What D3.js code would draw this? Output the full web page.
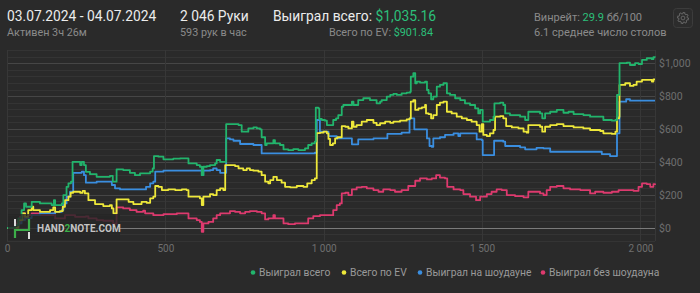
<!DOCTYPE html>
<html><head><meta charset="utf-8">
<script src="https://cdn.jsdelivr.net/npm/d3@7/dist/d3.min.js"></script>
<style>
html,body{margin:0;padding:0;background:#2a2a2a;}
svg{display:block;font-family:Roboto,"Noto Sans",sans-serif;}
</style></head><body>
<svg id="chart" width="700" height="293"></svg>
<script>
// ---------- DATA ----------
const seriesNames = ["Выиграл всего", "Всего по EV", "Выиграл на шоудауне", "Выиграл без шоудауна"];
const seriesColors = ["#22b46c", "#eee83a", "#3a8ee0", "#dd3a6e"];
const xTicks = [0, 500, 1000, 1500, 2000];
const xTickLabels = ["0", "500", "1 000", "1 500", "2 000"];
const yTicks = [0, 200, 400, 600, 800, 1000];
const yTickLabels = ["$0", "$200", "$400", "$600", "$800", "$1,000"];
const totalHands = 2046;

const wonTotal = [[0,0],[25,16],[36,57],[46,108],[54,148],[60,128],[67,128],[78,158],[104,148],[136,148],[141,138],[148,168],[152,138],[173,148],[178,199],[188,249],[194,270],[202,280],[207,401],[225,401],[231,381],[236,401],[243,381],[249,340],[262,326],[283,310],[325,316],[334,280],[344,280],[346,355],[367,351],[388,334],[404,320],[420,331],[436,331],[452,341],[460,361],[464,436],[478,432],[494,416],[525,420],[546,422],[567,422],[573,391],[599,381],[609,371],[615,320],[620,371],[631,375],[641,381],[657,391],[662,412],[673,401],[683,401],[692,630],[715,630],[731,624],[741,584],[752,584],[762,604],[778,610],[789,604],[799,598],[804,550],[815,503],[820,513],[831,513],[841,533],[846,513],[862,503],[873,477],[888,472],[904,478],[920,472],[941,482],[951,503],[962,513],[972,523],[975,730],[983,726],[986,661],[994,655],[1004,651],[1010,624],[1020,624],[1030,655],[1039,665],[1046,685],[1057,736],[1062,746],[1078,746],[1089,766],[1094,746],[1109,776],[1125,787],[1146,776],[1167,756],[1178,766],[1183,776],[1199,797],[1210,807],[1220,813],[1231,807],[1246,817],[1262,821],[1273,827],[1275,918],[1283,939],[1289,878],[1294,888],[1304,882],[1320,888],[1326,837],[1331,817],[1339,781],[1346,797],[1357,857],[1367,868],[1378,878],[1389,817],[1399,807],[1415,787],[1431,776],[1446,756],[1462,746],[1478,726],[1488,695],[1494,716],[1502,645],[1515,645],[1525,655],[1536,675],[1539,756],[1557,760],[1567,746],[1573,695],[1588,685],[1620,675],[1636,655],[1646,705],[1662,705],[1683,695],[1690,665],[1699,695],[1715,705],[1736,716],[1757,699],[1773,705],[1789,691],[1820,685],[1841,675],[1873,675],[1883,655],[1910,651],[1921,655],[1926,807],[1934,1000],[1947,1000],[1957,1003],[1967,989],[1983,1000],[1994,995],[2005,1020],[2020,1030],[2036,1024],[2041,1036],[2046,1035]];

const evTotal = [[0,0],[36,47],[49,88],[57,67],[67,108],[78,128],[83,108],[104,97],[136,108],[146,124],[152,97],[167,102],[176,128],[183,168],[194,189],[201,213],[209,219],[231,213],[239,225],[246,209],[257,168],[278,144],[304,132],[325,138],[331,118],[336,88],[345,88],[346,173],[367,173],[384,158],[399,144],[415,144],[425,158],[441,152],[452,179],[462,189],[468,254],[478,249],[489,229],[509,233],[531,229],[552,233],[567,229],[573,189],[599,189],[609,179],[615,138],[620,189],[631,189],[641,205],[651,199],[662,229],[673,240],[683,229],[689,381],[704,381],[720,375],[731,361],[746,351],[757,361],[767,351],[778,347],[794,341],[804,320],[815,280],[825,270],[831,290],[841,310],[852,290],[867,274],[878,249],[894,246],[915,254],[936,249],[948,270],[962,290],[972,300],[978,575],[988,578],[999,584],[1010,574],[1015,540],[1020,503],[1029,513],[1036,543],[1043,550],[1057,618],[1068,614],[1078,604],[1089,645],[1094,614],[1104,624],[1120,645],[1136,655],[1157,638],[1167,624],[1178,635],[1194,645],[1210,638],[1220,645],[1241,651],[1262,659],[1271,665],[1275,766],[1283,776],[1289,716],[1299,726],[1310,732],[1320,746],[1323,695],[1331,691],[1339,665],[1346,685],[1357,746],[1367,760],[1378,766],[1389,705],[1404,695],[1420,675],[1436,665],[1452,655],[1467,645],[1483,624],[1492,584],[1499,630],[1504,564],[1515,557],[1525,574],[1536,594],[1541,675],[1557,679],[1567,665],[1576,618],[1594,610],[1615,604],[1631,584],[1641,578],[1646,624],[1662,624],[1683,614],[1690,584],[1699,614],[1715,624],[1736,630],[1757,618],[1789,610],[1820,604],[1841,594],[1873,588],[1883,574],[1910,570],[1921,584],[1926,665],[1933,675],[1934,868],[1952,878],[1967,862],[1978,868],[1988,888],[2005,898],[2026,898],[2036,888],[2041,902],[2046,902]];

const wonShowdown = [[0,0],[36,27],[46,47],[57,59],[78,77],[104,88],[136,88],[152,97],[173,108],[178,148],[188,189],[199,219],[209,334],[231,334],[236,341],[243,320],[249,274],[262,274],[283,280],[325,280],[331,260],[341,240],[357,233],[430,233],[439,249],[452,270],[462,280],[468,341],[483,341],[494,347],[609,347],[615,320],[620,347],[641,351],[651,361],[662,351],[673,334],[689,334],[692,543],[704,537],[715,529],[736,509],[778,503],[799,503],[804,452],[883,452],[972,456],[978,655],[986,655],[988,584],[1010,584],[1015,557],[1041,543],[1083,543],[1089,507],[1104,507],[1109,537],[1136,537],[1157,543],[1199,543],[1201,570],[1231,570],[1246,578],[1267,578],[1271,665],[1283,665],[1286,598],[1320,598],[1326,543],[1334,497],[1341,492],[1346,543],[1367,550],[1383,564],[1410,574],[1425,557],[1431,574],[1473,574],[1483,537],[1499,533],[1502,442],[1530,442],[1538,529],[1567,523],[1573,497],[1620,489],[1636,477],[1662,477],[1672,486],[1694,483],[1715,462],[1873,462],[1878,448],[1904,436],[1921,436],[1926,574],[1934,766],[1947,766],[1955,781],[1967,772],[2046,772]];

const wonNonShowdown = [[0,0],[25,27],[41,67],[49,88],[57,57],[67,77],[78,88],[104,77],[136,77],[146,88],[152,57],[173,57],[183,77],[199,77],[215,67],[236,67],[249,70],[257,57],[283,47],[304,43],[325,43],[335,25],[345,25],[346,124],[367,118],[388,108],[409,97],[430,104],[436,88],[462,77],[494,83],[536,88],[562,88],[573,57],[599,47],[609,36],[615,-24],[620,27],[636,36],[651,57],[662,77],[673,88],[689,88],[704,102],[720,97],[736,88],[752,97],[767,102],[789,97],[804,88],[815,51],[825,57],[841,77],[846,57],[862,57],[873,27],[888,22],[909,27],[936,27],[951,57],[967,71],[988,77],[1020,77],[1030,108],[1041,138],[1051,148],[1057,209],[1068,213],[1078,199],[1089,233],[1104,246],[1120,249],[1136,240],[1157,229],[1173,219],[1188,233],[1210,229],[1225,219],[1246,229],[1267,254],[1278,254],[1289,286],[1304,300],[1326,294],[1341,300],[1355,320],[1367,305],[1383,300],[1390,249],[1410,233],[1431,229],[1441,205],[1462,189],[1481,168],[1494,189],[1515,205],[1530,219],[1546,233],[1562,229],[1578,199],[1604,193],[1631,185],[1646,219],[1667,219],[1683,209],[1694,199],[1704,229],[1715,249],[1736,254],[1757,240],[1778,233],[1810,229],[1831,229],[1841,209],[1857,219],[1883,213],[1910,219],[1931,229],[1957,229],[1978,225],[1994,249],[2005,270],[2020,266],[2031,249],[2041,266],[2046,260]];

const seriesData = [wonTotal, evTotal, wonShowdown, wonNonShowdown];

// ---------- CHART ----------
const svg = d3.select("#chart");
const W = 700, H = 293;
const plot = {left: 7, right: 655, top: 50, bottom: 241};

svg.append("rect").attr("width", W).attr("height", H).attr("fill", "#2a2a2a");

const x = d3.scaleLinear().domain([0, totalHands]).range([plot.left, plot.right]);
const y = d3.scaleLinear().domain([-80, 1080]).range([plot.bottom, plot.top]);

// minor grid
const minorTicks = d3.range(-80, 1081, 40);
svg.append("g").selectAll("line").data(minorTicks).join("line")
  .attr("x1", plot.left).attr("x2", plot.right)
  .attr("y1", d => Math.round(y(d)) + 0.5).attr("y2", d => Math.round(y(d)) + 0.5)
  .attr("stroke", d => d % 200 === 0 ? "#464646" : "#343434").attr("stroke-width", 1);
// vertical grid
svg.append("g").selectAll("line").data(xTicks).join("line")
  .attr("x1", d => Math.round(x(d)) + 0.5).attr("x2", d => Math.round(x(d)) + 0.5)
  .attr("y1", plot.top).attr("y2", plot.bottom)
  .attr("stroke", "#373737");
svg.append("line").attr("x1", plot.right + 0.5).attr("x2", plot.right + 0.5)
  .attr("y1", plot.top).attr("y2", plot.bottom).attr("stroke", "#373737");
// zero line
svg.append("line").attr("x1", plot.left).attr("x2", plot.right)
  .attr("y1", Math.round(y(0)) + 0.5).attr("y2", Math.round(y(0)) + 0.5)
  .attr("stroke", "#7a7a7a").attr("stroke-width", 1.2);

// axes
const xAxis = d3.axisBottom(x).tickValues(xTicks).tickSize(0).tickPadding(0)
  .tickFormat((d, i) => xTickLabels[i]);
const gx = svg.append("g").attr("transform", `translate(0,${plot.bottom + 4})`).call(xAxis);
gx.select(".domain").remove();
gx.selectAll("text").attr("fill", "#6f6f6f").attr("font-size", 10)
  .attr("font-family", "Roboto, sans-serif");

const yAxis = d3.axisRight(y).tickValues(yTicks).tickSize(0).tickPadding(0)
  .tickFormat((d, i) => yTickLabels[i]);
const gy = svg.append("g").attr("transform", `translate(${plot.right + 4},0)`).call(yAxis);
gy.select(".domain").remove();
gy.selectAll("text").attr("fill", "#6f6f6f").attr("font-size", 10.5)
  .attr("font-family", "Roboto, sans-serif");

// lines
const line = d3.line().x(d => x(d[0])).y(d => y(d[1])).curve(d3.curveStepAfter);
const order = [3, 2, 1, 0];
svg.append("g").selectAll("path").data(order).join("path")
  .attr("d", i => line(seriesData[i]))
  .attr("fill", "none")
  .attr("stroke", i => seriesColors[i])
  .attr("stroke-width", 1.8)
  .attr("stroke-linejoin", "round");

// watermark
const wm = svg.append("g");
wm.append("rect").attr("x", 8).attr("y", 214).attr("width", 112).attr("height", 26)
  .attr("fill", "#262626").attr("opacity", 0.8);
wm.append("rect").attr("x", 14).attr("y", 219).attr("width", 2).attr("height", 7).attr("fill", "#dcdcdc");
wm.append("path").attr("d", "M15,238V230H29V219").attr("fill", "none")
  .attr("stroke", "#3cae49").attr("stroke-width", 2.2);
wm.append("rect").attr("x", 28).attr("y", 232).attr("width", 2).attr("height", 7).attr("fill", "#dcdcdc");
const wt = wm.append("text").attr("x", 37).attr("y", 232).attr("font-size", 10)
  .attr("font-weight", "bold").attr("fill", "#c4c4c4").attr("font-family", "Roboto, sans-serif");
wt.append("tspan").text("HAND");
wt.append("tspan").text("2").attr("fill", "#3cae49");
wt.append("tspan").text("NOTE.COM");

// legend
const legendX = [253, 344, 420, 543];
const lg = svg.append("g");
seriesNames.forEach((n, i) => {
  lg.append("circle").attr("cx", legendX[i]).attr("cy", 272.5).attr("r", 2.3).attr("fill", seriesColors[i]);
  lg.append("text").attr("x", legendX[i] + 6).attr("y", 276).attr("font-size", 10.3)
    .attr("fill", "#9a9a9a").text(n);
});

// header
const hd = svg.append("g");
hd.append("text").attr("x", 7).attr("y", 21).attr("font-size", 13.8).attr("fill", "#ececec")
  .text("03.07.2024 - 04.07.2024");
hd.append("text").attr("x", 7).attr("y", 36).attr("font-size", 10.8).attr("fill", "#8a8a8a")
  .text("Активен 3ч 26м");
hd.append("text").attr("x", 180).attr("y", 21).attr("font-size", 13.8).attr("fill", "#ececec")
  .text("2 046 Руки");
hd.append("text").attr("x", 180).attr("y", 36).attr("font-size", 10.8).attr("fill", "#8a8a8a")
  .text("593 рук в час");
const t1 = hd.append("text").attr("x", 273).attr("y", 21).attr("font-size", 13.8).attr("fill", "#ececec");
t1.append("tspan").text("Выиграл всего: ");
t1.append("tspan").text("$1,035.16").attr("fill", "#2cc07a");
const t2 = hd.append("text").attr("x", 433).attr("y", 36).attr("font-size", 10.8)
  .attr("fill", "#8a8a8a").attr("text-anchor", "end");
t2.append("tspan").text("Всего по EV: ");
t2.append("tspan").text("$901.84").attr("fill", "#2cc07a");
const t3 = hd.append("text").attr("x", 534).attr("y", 21).attr("font-size", 11).attr("fill", "#8a8a8a");
t3.append("tspan").text("Винрейт: ");
t3.append("tspan").text("29.9").attr("fill", "#2cc07a");
t3.append("tspan").text(" бб/100");
hd.append("text").attr("x", 534).attr("y", 36).attr("font-size", 11).attr("fill", "#8a8a8a")
  .text("6.1 среднее число столов");

// gear button
hd.append("rect").attr("x", 673.5).attr("y", 8.5).attr("width", 19).attr("height", 19).attr("rx", 3)
  .attr("fill", "#2c2c2c").attr("stroke", "#3c3c3c");
const gcx = 683, gcy = 18, teeth = 8;
let gp = "";
for (let k = 0; k < teeth * 2; k++) {
  const a0 = (k / (teeth * 2)) * Math.PI * 2, a1 = ((k + 1) / (teeth * 2)) * Math.PI * 2;
  const r = k % 2 === 0 ? 5.6 : 4.3;
  gp += (k === 0 ? "M" : "L") + (gcx + r * Math.cos(a0)).toFixed(2) + "," + (gcy + r * Math.sin(a0)).toFixed(2);
  gp += "L" + (gcx + r * Math.cos(a1)).toFixed(2) + "," + (gcy + r * Math.sin(a1)).toFixed(2);
}
gp += "Z";
hd.append("path").attr("d", gp).attr("fill", "none").attr("stroke", "#6a6a6a").attr("stroke-width", 0.9);
hd.append("circle").attr("cx", gcx).attr("cy", gcy).attr("r", 1.9).attr("fill", "none")
  .attr("stroke", "#6a6a6a").attr("stroke-width", 0.9);
</script>
</body></html>
